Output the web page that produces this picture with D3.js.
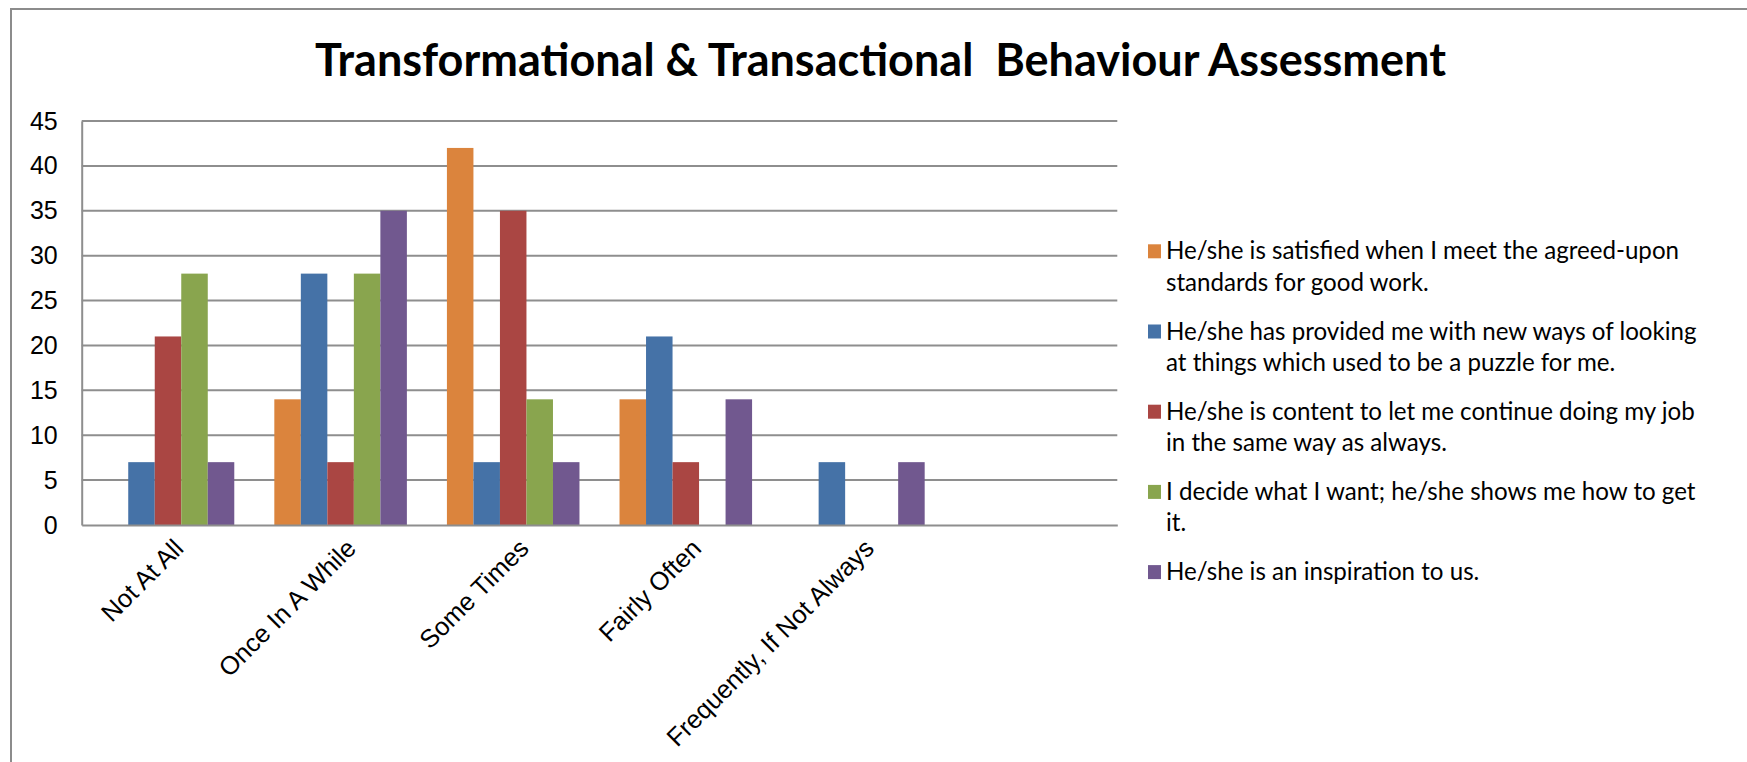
<!DOCTYPE html>
<html>
<head>
<meta charset="utf-8">
<script src="https://cdn.jsdelivr.net/npm/d3@7"></script>
<style>
  body { margin: 0; background: #fff; }
  svg { display: block; }
</style>
</head>
<body>
<div id="chart"></div>
<script>
// categories (the last slot is empty, as in the source sheet)
var categories = ["Not At All", "Once In A While", "Some Times", "Fairly Often", "Frequently, If Not Always", ""];

var seriesNames = [
  "He/she is satisfied when I meet the agreed-upon standards for good work.",
  "He/she has provided me with new ways of looking at things which used to be a puzzle for me.",
  "He/she is content to let me continue doing my job in the same way as always.",
  "I decide what I want; he/she shows me how to get it.",
  "He/she is an inspiration to us."
];

// how the legend wraps each name
var legendLines = [
  ["He/she is satisfied when I meet the agreed-upon", "standards for good work."],
  ["He/she has provided me with new ways of looking", "at things which used to be a puzzle for me."],
  ["He/she is content to let me continue doing my job", "in the same way as always."],
  ["I decide what I want; he/she shows me how to get", "it."],
  ["He/she is an inspiration to us."]
];

var satisfied   = [0, 14, 42, 14, 0, 0];
var newWays     = [7, 28, 7, 21, 7, 0];
var content     = [21, 7, 35, 7, 0, 0];
var decide      = [28, 28, 14, 0, 0, 0];
var inspiration = [7, 35, 7, 14, 7, 0];

var yTicks = [0, 5, 10, 15, 20, 25, 30, 35, 40, 45];

var colors = ["#DB843D", "#4572A7", "#AA4643", "#89A54E", "#71588F"];

var allSeries = [satisfied, newWays, content, decide, inspiration];

var svgWidth = 1747;
var svgHeight = 762;

var plot = { left: 81.7, right: 1117.3, top: 121, bottom: 525 };

var svg = d3.select("#chart")
  .append("svg")
  .attr("width", svgWidth)
  .attr("height", svgHeight);

// outer frame (clipped by the picture at right and bottom)
svg.append("path")
  .attr("d", "M11,762 L11,9 L1747,9")
  .attr("fill", "none")
  .attr("stroke", "#8c8c8c")
  .attr("stroke-width", 2);

// title
var title = svg.append("text")
  .attr("x", 880.5)
  .attr("y", 76)
  .attr("text-anchor", "middle")
  .style("font-family", "Lato, 'Open Sans', sans-serif")
  .style("font-weight", "bold")
  .style("font-size", "44px")
  .style("white-space", "pre")
  .attr("fill", "#000")
  .text("Transformational & Transactional  Behaviour Assessment");
// fit the title to the width it has in the original
var tw = title.node().getComputedTextLength();
title.style("font-size", (44 * 1131 / tw) + "px");

// scales
var x0 = d3.scaleBand()
  .domain(categories)
  .range([plot.left, plot.right])
  .paddingInner(0.232)
  .paddingOuter(0.116);

var x1 = d3.scaleBand()
  .domain(d3.range(allSeries.length))
  .range([0, x0.bandwidth()]);

var y = d3.scaleLinear()
  .domain([0, 45])
  .range([plot.bottom, plot.top]);

// gridlines
svg.append("g")
  .selectAll("line")
  .data(yTicks.filter(function(t) { return t > 0; }))
  .enter().append("line")
  .attr("x1", plot.left)
  .attr("x2", plot.right)
  .attr("y1", function(d) { return y(d); })
  .attr("y2", function(d) { return y(d); })
  .attr("stroke", "#8e8e8e")
  .attr("stroke-width", 2);

// bars
var groups = svg.append("g")
  .selectAll("g")
  .data(allSeries)
  .enter().append("g")
  .attr("fill", function(d, i) { return colors[i]; });

groups.selectAll("rect")
  .data(function(vals, si) {
    return vals.map(function(v, ci) { return { s: si, c: categories[ci], v: v }; })
      .filter(function(d) { return d.v > 0; });
  })
  .enter().append("rect")
  .attr("x", function(d) { return x0(d.c) + x1(d.s); })
  .attr("y", function(d) { return y(d.v); })
  .attr("width", x1.bandwidth())
  .attr("height", function(d) { return y(0) - y(d.v); });

// y axis
var yAxis = d3.axisLeft(y)
  .tickValues(yTicks)
  .tickSize(0)
  .tickPadding(24);

var yG = svg.append("g")
  .attr("transform", "translate(" + plot.left + ",0)")
  .call(yAxis);
yG.select(".domain").attr("stroke", "#8e8e8e").attr("stroke-width", 2);
yG.selectAll("text")
  .style("font-family", "'Liberation Sans', Arial, sans-serif")
  .style("font-size", "25px")
  .attr("fill", "#000");

// x axis
var xAxis = d3.axisBottom(x0)
  .tickSize(0)
  .tickSizeOuter(0);

var xG = svg.append("g")
  .attr("transform", "translate(0," + plot.bottom + ")")
  .call(xAxis);
xG.select(".domain").attr("stroke", "#8e8e8e").attr("stroke-width", 2);
xG.selectAll("text")
  .attr("x", 0)
  .attr("y", 0)
  .attr("dy", null)
  .attr("transform", "translate(17,25) rotate(-45)")
  .style("text-anchor", "end")
  .style("font-family", "'Liberation Sans', Arial, sans-serif")
  .style("font-size", "25.5px")
  .attr("fill", "#000");

// legend
var legend = svg.append("g")
  .selectAll("g")
  .data(seriesNames)
  .enter().append("g")
  .attr("transform", function(d, i) { return "translate(1148," + (259.3 + i * 80.2) + ")"; });

legend.append("rect")
  .attr("x", 0)
  .attr("y", -15)
  .attr("width", 13)
  .attr("height", 14)
  .attr("fill", function(d, i) { return colors[i]; });

var legendText = legend.append("text")
  .attr("x", 18)
  .attr("y", 0)
  .style("font-family", "Lato, 'Open Sans', sans-serif")
  .style("font-size", "24px")
  .attr("fill", "#000");

legendText.selectAll("tspan")
  .data(function(d, i) { return legendLines[i]; })
  .enter().append("tspan")
  .attr("x", 18)
  .attr("dy", function(d, j) { return j === 0 ? 0 : 31.4; })
  .text(function(d) { return d; });

// fit legend text to the width of the longest line in the original
var probe = legendText.filter(function(d, i) { return i === 1; }).select("tspan").node();
var lw = probe.getComputedTextLength();
legendText.style("font-size", (24 * 531 / lw) + "px");
</script>
</body>
</html>
